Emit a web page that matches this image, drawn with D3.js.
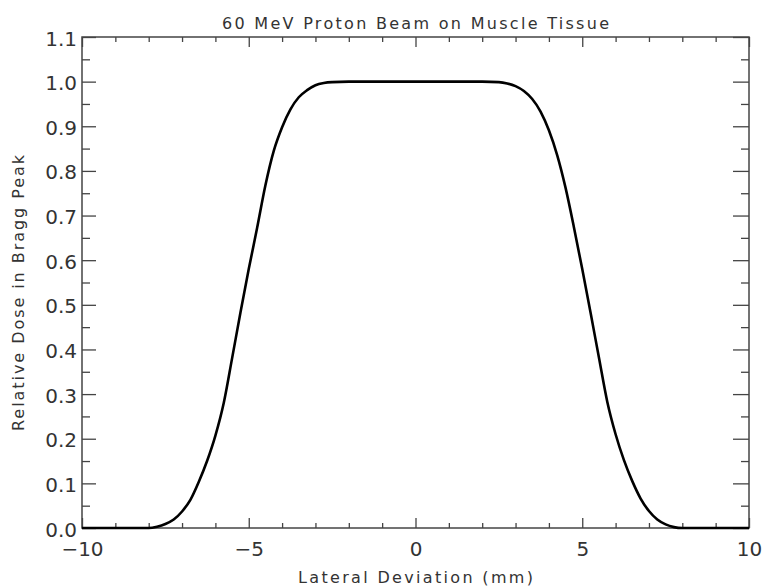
<!DOCTYPE html>
<html>
<head>
<meta charset="utf-8">
<script src="https://cdn.jsdelivr.net/npm/d3@7"></script>
<style>
  html, body { margin: 0; padding: 0; background: #fff; }
  svg { display: block; }
  text { font-family: "DejaVu Sans", sans-serif; fill: #333; }
</style>
</head>
<body>
<svg id="chart" width="763" height="588"></svg>
<script>
// ---- data ----
const title = "60 MeV Proton Beam on Muscle Tissue";
const xLabel = "Lateral Deviation (mm)";
const yLabel = "Relative Dose in Bragg Peak";

const deviation = [-10, -9, -8.5, -8, -7.75, -7.5, -7.25, -7, -6.75, -6.5, -6.25, -6, -5.75, -5.5, -5.25, -5,
  -4.75, -4.5, -4.25, -4, -3.75, -3.5, -3.25, -3, -2.75, -2.5, -2, -1, 0, 1, 2,
  2.5, 2.75, 3, 3.25, 3.5, 3.75, 4, 4.25, 4.5, 4.75, 5, 5.25, 5.5, 5.75, 6, 6.25, 6.5, 6.75, 7, 7.25, 7.5, 7.75, 8, 8.5, 9, 10];
const dose = [0, 0, 0, 0, 0.003, 0.009, 0.019, 0.037, 0.063, 0.103, 0.150, 0.207, 0.280, 0.380, 0.482, 0.580,
  0.672, 0.768, 0.845, 0.898, 0.938, 0.965, 0.981, 0.992, 0.997, 0.999, 1.0, 1.0, 1.0, 1.0, 1.0,
  0.999, 0.996, 0.990, 0.979, 0.961, 0.933, 0.891, 0.835, 0.762, 0.674, 0.580, 0.482, 0.382, 0.283, 0.210, 0.152, 0.105, 0.066, 0.038, 0.019, 0.008, 0.002, 0, 0, 0, 0];

const xMajorTicks = [-10, -5, 0, 5, 10];
const xMinorTicks = [-9, -8, -7, -6, -4, -3, -2, -1, 1, 2, 3, 4, 6, 7, 8, 9];
const yMajorTicks = [0.0, 0.1, 0.2, 0.3, 0.4, 0.5, 0.6, 0.7, 0.8, 0.9, 1.0, 1.1];
const yMinorTicks = [0.05, 0.15, 0.25, 0.35, 0.45, 0.55, 0.65, 0.75, 0.85, 0.95, 1.05];

// ---- layout ----
const margin = { left: 82, right: 14, top: 37, bottom: 60 };
const W = 763, H = 588;
const svg = d3.select("#chart");

const x = d3.scaleLinear().domain([-10, 10]).range([margin.left, W - margin.right]);
const y = d3.scaleLinear().domain([0, 1.1]).range([H - margin.bottom, margin.top]);

const axisColor = "#444";
const fmtY = d3.format(".1f");
const fmtX = v => v < 0 ? "\u2212" + Math.abs(v) : String(v);

// bottom axis (labels + major ticks inward)
const gB = svg.append("g").attr("transform", `translate(0,${y(0)})`)
  .call(d3.axisBottom(x).tickValues(xMajorTicks).tickSizeInner(-10).tickSizeOuter(0).tickPadding(14).tickFormat(fmtX));
svg.append("g").attr("transform", `translate(0,${y(0)})`)
  .call(d3.axisBottom(x).tickValues(xMinorTicks).tickSizeInner(-5).tickSizeOuter(0).tickFormat(""));
// top axis
svg.append("g").attr("transform", `translate(0,${y(1.1)})`)
  .call(d3.axisTop(x).tickValues(xMajorTicks).tickSizeInner(-10).tickSizeOuter(0).tickFormat(""));
svg.append("g").attr("transform", `translate(0,${y(1.1)})`)
  .call(d3.axisTop(x).tickValues(xMinorTicks).tickSizeInner(-5).tickSizeOuter(0).tickFormat(""));
// left axis
const gL = svg.append("g").attr("transform", `translate(${x(-10)},0)`)
  .call(d3.axisLeft(y).tickValues(yMajorTicks).tickSizeInner(-14).tickSizeOuter(0).tickPadding(5).tickFormat(fmtY));
svg.append("g").attr("transform", `translate(${x(-10)},0)`)
  .call(d3.axisLeft(y).tickValues(yMinorTicks).tickSizeInner(-8).tickSizeOuter(0).tickFormat(""));
// right axis
svg.append("g").attr("transform", `translate(${x(10)},0)`)
  .call(d3.axisRight(y).tickValues(yMajorTicks).tickSizeInner(-16).tickSizeOuter(0).tickFormat(""));
svg.append("g").attr("transform", `translate(${x(10)},0)`)
  .call(d3.axisRight(y).tickValues(yMinorTicks).tickSizeInner(-8).tickSizeOuter(0).tickFormat(""));

svg.selectAll(".domain").remove();
svg.selectAll(".tick line").attr("stroke", axisColor).attr("stroke-width", 1.3);
svg.selectAll(".tick text").attr("fill", "#333").style("font-family", "DejaVu Sans, sans-serif");
gB.selectAll(".tick text").attr("font-size", 20);
gL.selectAll(".tick text").attr("font-size", 20).attr("dy", "0.40em");

// frame
svg.append("rect")
  .attr("x", x(-10)).attr("y", y(1.1))
  .attr("width", x(10) - x(-10)).attr("height", y(0) - y(1.1))
  .attr("fill", "none").attr("stroke", axisColor).attr("stroke-width", 1.5);

// curve
const pts = deviation.map((d, i) => [d, dose[i]]);
const line = d3.line().x(d => x(d[0])).y(d => y(d[1])).curve(d3.curveMonotoneX);
svg.append("path").datum(pts)
  .attr("d", line)
  .attr("fill", "none").attr("stroke", "#000").attr("stroke-width", 2.6)
  .attr("stroke-linejoin", "round");

// titles
svg.append("text")
  .attr("x", (x(-10) + x(10)) / 2).attr("y", 29)
  .attr("text-anchor", "middle").attr("font-size", 16)
  .attr("textLength", 387).attr("lengthAdjust", "spacing")
  .text(title);

svg.append("text")
  .attr("x", (x(-10) + x(10)) / 2).attr("y", 583)
  .attr("text-anchor", "middle").attr("font-size", 16)
  .attr("textLength", 235).attr("lengthAdjust", "spacing")
  .text(xLabel);

svg.append("text")
  .attr("transform", `translate(24,${293}) rotate(-90)`)
  .attr("text-anchor", "middle").attr("font-size", 16)
  .attr("textLength", 276).attr("lengthAdjust", "spacing")
  .text(yLabel);
</script>
</body>
</html>
